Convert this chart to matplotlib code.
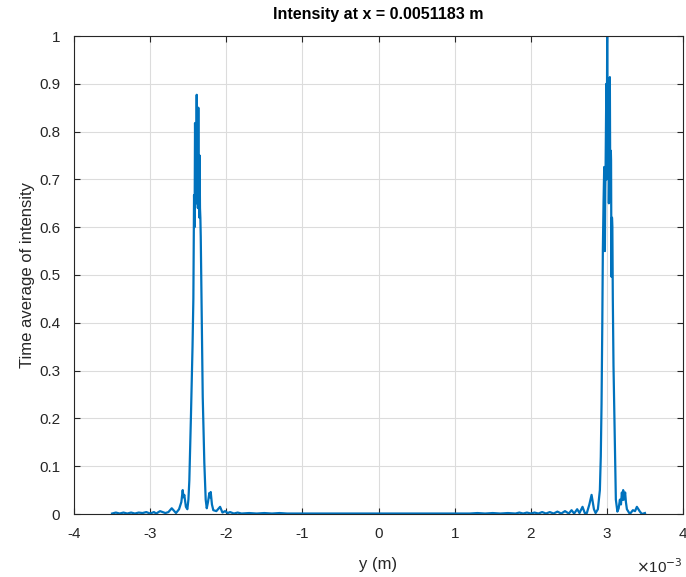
import matplotlib
matplotlib.use("Agg")
import matplotlib.pyplot as plt
import numpy as np

plt.rcParams['font.family'] = ['Liberation Sans', 'DejaVu Sans']
plt.rcParams['axes.unicode_minus'] = False

# y position in units of 1e-3 m
y_pos = [-3.50, -3.45, -3.40, -3.35, -3.30, -3.25, -3.20, -3.15, -3.10, -3.05,
         -3.00, -2.95, -2.92, -2.87, -2.80, -2.76, -2.716, -2.66, -2.62,
         -2.590, -2.572, -2.562, -2.551, -2.530, -2.511, -2.497, -2.485, -2.463,
         -2.443, -2.432, -2.423, -2.416, -2.410, -2.404, -2.400, -2.394, -2.388,
         -2.384, -2.380, -2.373, -2.367, -2.362, -2.357, -2.353, -2.350, -2.345,
         -2.340, -2.335, -2.322, -2.309, -2.288, -2.270, -2.256, -2.240, -2.222,
         -2.213, -2.204, -2.188, -2.170, -2.130, -2.081, -2.050, -2.016, -1.980,
         -1.950, -1.90, -1.85, -1.80, -1.70, -1.60, -1.50, -1.40, -1.30, -1.20,
         -1.10, -1.00, -0.90, -0.80, -0.70, -0.60, -0.50, -0.40, -0.30, -0.20,
         -0.10, 0.00, 0.10, 0.20, 0.30, 0.40, 0.50, 0.60, 0.70, 0.80, 0.90,
         1.00, 1.10, 1.20, 1.30, 1.40, 1.50, 1.60, 1.70, 1.80, 1.85, 1.90,
         1.95, 2.00, 2.05, 2.10, 2.15, 2.20, 2.25, 2.30, 2.35, 2.40, 2.45,
         2.50, 2.536, 2.57, 2.61, 2.64, 2.680, 2.71, 2.737, 2.77, 2.799, 2.83,
         2.852, 2.882, 2.908, 2.920, 2.930, 2.940, 2.947, 2.956, 2.965, 2.970,
         2.974, 2.979, 2.983, 2.988, 2.993, 2.998, 3.004, 3.008, 3.013, 3.018,
         3.022, 3.026, 3.030, 3.035, 3.039, 3.044, 3.049, 3.052, 3.055, 3.058,
         3.062, 3.067, 3.072, 3.078, 3.083, 3.087, 3.095, 3.105, 3.118, 3.138,
         3.155, 3.171, 3.185, 3.197, 3.206, 3.214, 3.222, 3.230, 3.240, 3.250,
         3.263, 3.302, 3.342, 3.370, 3.394, 3.434, 3.460, 3.50]

intensity = [0.001, 0.003, 0.001, 0.003, 0.001, 0.003, 0.001, 0.003, 0.002, 0.004,
             0.001, 0.004, 0.001, 0.006, 0.002, 0.004, 0.012, 0.002, 0.010,
             0.025, 0.050, 0.035, 0.040, 0.015, 0.010, 0.030, 0.070, 0.210,
             0.350, 0.450, 0.667, 0.600, 0.818, 0.700, 0.780, 0.650, 0.877,
             0.700, 0.730, 0.640, 0.850, 0.680, 0.700, 0.620, 0.750, 0.640,
             0.620, 0.580, 0.420, 0.245, 0.107, 0.030, 0.012, 0.025, 0.044,
             0.035, 0.046, 0.020, 0.008, 0.006, 0.015, 0.003, 0.006, 0.002,
             0.004, 0.001, 0.003, 0.001, 0.002, 0.001, 0.002, 0.001, 0.002, 0.001,
             0.001, 0.001, 0.001, 0.001, 0.001, 0.001, 0.001, 0.001, 0.001, 0.001,
             0.001, 0.001, 0.001, 0.001, 0.001, 0.001, 0.001, 0.001, 0.001, 0.001, 0.001,
             0.001, 0.001, 0.001, 0.002, 0.001, 0.002, 0.001, 0.002, 0.001, 0.003, 0.001,
             0.003, 0.001, 0.003, 0.001, 0.004, 0.001, 0.004, 0.001, 0.005, 0.001, 0.006,
             0.001, 0.008, 0.001, 0.010, 0.002, 0.015, 0.002, 0.002, 0.020, 0.040, 0.010,
             0.002, 0.010, 0.050, 0.120, 0.230, 0.400, 0.550, 0.650, 0.726, 0.600,
             0.550, 0.680, 0.720, 0.800, 0.900, 0.700, 1.000, 0.800, 0.750, 0.900,
             0.850, 0.650, 0.700, 0.800, 0.914, 0.700, 0.653, 0.760, 0.740, 0.600,
             0.496, 0.620, 0.600, 0.450, 0.374, 0.310, 0.240, 0.160, 0.030, 0.005,
             0.012, 0.030, 0.020, 0.045, 0.030, 0.050, 0.030, 0.035, 0.045, 0.025,
             0.010, 0.000, 0.008, 0.006, 0.015, 0.005, 0.000, 0.002]

x_ticks = [-4, -3, -2, -1, 0, 1, 2, 3, 4]
y_ticks = [0, 0.1, 0.2, 0.3, 0.4, 0.5, 0.6, 0.7, 0.8, 0.9, 1]
y_tick_labels = ['0', '0.1', '0.2', '0.3', '0.4', '0.5', '0.6', '0.7', '0.8', '0.9', '1']

fig = plt.figure(figsize=(6.86, 5.77), dpi=100)
ax = fig.add_axes([74/686, 1 - 514/577, (683 - 74)/686, (514 - 36)/577])

ax.plot(y_pos, intensity, color='#0072BD', lw=1.6)

ax.set_xlim(-4, 4)
ax.set_ylim(0, 1)
ax.set_xticks(x_ticks)
ax.set_xticklabels([str(t) for t in x_ticks])
ax.set_yticks(y_ticks)
ax.set_yticklabels(y_tick_labels)

dark = '#262626'
ax.grid(True, color='#dcdcdc', lw=0.8)
ax.set_axisbelow(True)
for s in ax.spines.values():
    s.set_color(dark)
    s.set_linewidth(0.8)
ax.tick_params(direction='in', length=4, width=0.8, colors=dark, labelsize=11,
               top=True, right=True)
ax.tick_params(axis='x', pad=9)
ax.tick_params(axis='y', pad=10)

ax.set_title('Intensity at x = 0.0051183 m', fontsize=11.5, fontweight='bold',
             color='black', pad=12.5)
ax.set_xlabel('y (m)', fontsize=12, color=dark, labelpad=12)
ax.set_ylabel('Time average of intensity', fontsize=12, color=dark, labelpad=3)

fig.text(683/686, 1 - 567/577, r'$\times$10$^{-3}$', fontsize=11, color=dark,
         ha='right', va='center')

fig.savefig('out.png', dpi=100, facecolor='white')
